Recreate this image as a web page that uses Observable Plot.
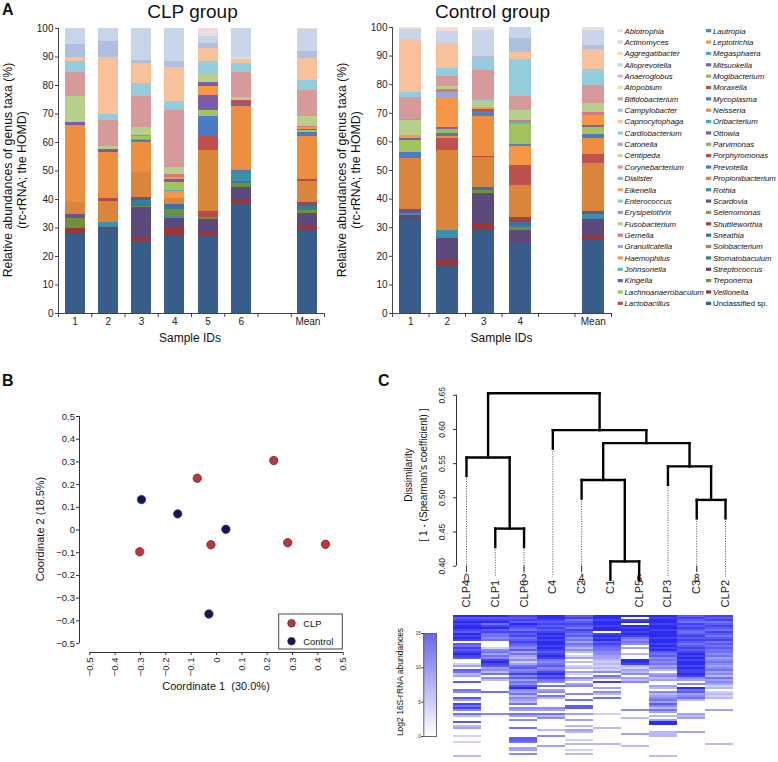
<!DOCTYPE html>
<html><head><meta charset="utf-8">
<script src="https://cdn.jsdelivr.net/npm/d3@7"></script>
<script src="https://cdn.jsdelivr.net/npm/@observablehq/plot@0.6"></script>
<style>
body{margin:0;background:#fff;}
#root{position:relative;width:778px;height:762px;overflow:hidden;background:#fff;}
#root > svg{position:absolute;}
</style></head><body><div id="root"></div>
<script>
const FONT = "'Liberation Sans', Arial, Helvetica, sans-serif";

// ---------- Panel A data ----------
const taxa = ["Abiotrophia","Actinomyces","Aggregatibacter","Alloprevotella","Anaeroglobus","Atopobium","Bifidobacterium","Campylobacter","Capnocytophaga","Cardiobacterium","Catonella","Centipeda","Corynebacterium","Dialister","Eikenella","Enterococcus","Erysipelothrix","Fusobacterium","Gemella","Granulicatella","Haemophilus","Johnsonella","Kingella","Lachnoanaerobaculum","Lactobacillus",
"Lautropia","Leptotrichia","Megasphaera","Mitsuokella","Mogibacterium","Moraxella","Mycoplasma","Neisseria","Oribacterium","Ottowia","Parvimonas","Porphyromonas","Prevotella","Propionibacterium","Rothia","Scardovia","Selenomonas","Shuttleworthia","Sneathia","Solobacterium","Stomatobaculum","Streptococcus","Treponema","Veillonella","Unclassified sp."];
const taxaColors = ["#F2DCDB","#C8D5E9","#FCD5B5","#B7DEE8","#CCC1DA","#D7E4BD","#D4A59A","#AEBFE2","#F9C09C","#93CDDD","#B3A2C7","#C3D69B","#D69A9B","#95B3D7","#F2A469","#8CCBC7","#A597C9","#B6D08C","#D9787A","#95A9DA","#F39A4E","#5CBBC4","#7A5CA8","#A3C35F","#C84A44",
"#4F81BD","#F79646","#4BACC6","#8064A2","#9BBB59","#C0504D","#4A7EBB","#EE8F40","#46A8C1","#7A5F9E","#93B454","#B84B47","#4A7BC4","#D9853C","#3E8FA8","#6A5489","#82A04B","#A8423F","#3F6EA8","#B87A4B","#357F93","#5C4A7C","#71903E","#983736","#385D8A"];

const clpIDs = ["1","2","3","4","5","6","Mean"];
const ctlIDs = ["1","2","3","4","Mean"];

const clp1 = [["Unclassified sp.",27.7],["Veillonella",2.3],["Treponema",3.3],["Scardovia",1.4],["Propionibacterium",4.1],["Neisseria",27.2],["Kingella",1.1],["Fusobacterium",9.1],["Corynebacterium",8.4],["Cardiobacterium",3.7],["Capnocytophaga",1.7],["Campylobacter",4.4],["Actinomyces",5.6]];
const clp2 = [["Unclassified sp.",29.4],["Streptococcus",0.7],["Rothia",2.0],["Propionibacterium",7.2],["Porphyromonas",1.1],["Neisseria",16.2],["Kingella",0.9],["Fusobacterium",1.2],["Corynebacterium",9.1],["Cardiobacterium",2.2],["Capnocytophaga",19.9],["Campylobacter",5.6],["Actinomyces",4.5]];
const clp3 = [["Unclassified sp.",25.1],["Veillonella",1.7],["Streptococcus",10.3],["Treponema",0.5],["Stomatobaculum",2.2],["Scardovia",0.8],["Propionibacterium",9.0],["Neisseria",10.3],["Mycoplasma",0.7],["Megasphaera",0.6],["Lachnoanaerobaculum",0.8],["Gemella",0.6],["Fusobacterium",2.7],["Corynebacterium",10.8],["Cardiobacterium",4.6],["Capnocytophaga",7.0],["Campylobacter",0.9],["Actinomyces",11.4]];
const clp4 = [["Unclassified sp.",27.5],["Veillonella",2.3],["Streptococcus",3.5],["Rothia",0.8],["Treponema",2.4],["Stomatobaculum",0.8],["Sneathia",0.9],["Propionibacterium",2.2],["Leptotrichia",2.3],["Megasphaera",0.5],["Lachnoanaerobaculum",2.7],["Kingella",1.0],["Haemophilus",0.9],["Gemella",1.0],["Fusobacterium",2.3],["Corynebacterium",20.1],["Cardiobacterium",3.1],["Capnocytophaga",11.9],["Campylobacter",2.1],["Actinomyces",11.7]];
const clp5 = [["Unclassified sp.",26.9],["Veillonella",1.4],["Streptococcus",4.7],["Treponema",0.8],["Porphyromonas",1.9],["Propionibacterium",21.5],["Moraxella",4.8],["Prevotella",7.2],["Lachnoanaerobaculum",2.0],["Kingella",5.4],["Leptotrichia",3.2],["Ottowia",1.1],["Fusobacterium",3.0],["Cardiobacterium",4.6],["Capnocytophaga",4.5],["Campylobacter",1.6],["Actinomyces",2.7],["Abiotrophia",2.7]];
const clp6 = [["Unclassified sp.",38.7],["Veillonella",0.9],["Streptococcus",4.7],["Treponema",1.4],["Stomatobaculum",0.5],["Rothia",3.4],["Prevotella",0.7],["Neisseria",22.5],["Kingella",0.8],["Moraxella",1.2],["Fusobacterium",0.9],["Corynebacterium",9.0],["Cardiobacterium",2.9],["Capnocytophaga",1.5],["Atopobium",0.8],["Actinomyces",10.1]];
const clpMean = [["Unclassified sp.",29.2],["Veillonella",1.8],["Streptococcus",4.1],["Treponema",1.1],["Stomatobaculum",1.3],["Scardovia",0.7],["Shuttleworthia",0.6],["Propionibacterium",7.4],["Porphyromonas",0.8],["Neisseria",15.0],["Prevotella",1.4],["Lachnoanaerobaculum",0.7],["Kingella",0.6],["Haemophilus",0.5],["Gemella",0.5],["Fusobacterium",3.3],["Corynebacterium",9.4],["Cardiobacterium",3.5],["Capnocytophaga",7.6],["Campylobacter",2.6],["Actinomyces",7.4],["Abiotrophia",0.5]];

const ctl1 = [["Unclassified sp.",32.9],["Streptococcus",1.4],["Rothia",0.7],["Scardovia",1.4],["Propionibacterium",17.9],["Prevotella",2.0],["Lachnoanaerobaculum",4.1],["Kingella",0.9],["Haemophilus",0.8],["Fusobacterium",5.3],["Johnsonella",0.6],["Corynebacterium",7.4],["Cardiobacterium",2.0],["Capnocytophaga",18.4],["Actinomyces",3.5],["Abiotrophia",0.7]];
const ctl2 = [["Unclassified sp.",16.5],["Veillonella",2.3],["Streptococcus",7.4],["Rothia",2.9],["Propionibacterium",27.8],["Moraxella",4.4],["Neisseria",0.7],["Mycoplasma",0.9],["Mogibacterium",1.4],["Mitsuokella",0.9],["Leptotrichia",10.3],["Granulicatella",1.8],["Gemella",1.1],["Fusobacterium",0.9],["Corynebacterium",3.6],["Cardiobacterium",2.8],["Capnocytophaga",8.8],["Actinomyces",4.2],["Abiotrophia",1.3]];
const ctl3 = [["Unclassified sp.",29.1],["Veillonella",2.1],["Streptococcus",10.8],["Treponema",0.9],["Sneathia",1.2],["Propionibacterium",10.4],["Porphyromonas",0.4],["Neisseria",14.0],["Lautropia",1.6],["Lactobacillus",0.7],["Haemophilus",0.9],["Fusobacterium",2.1],["Enterococcus",0.5],["Corynebacterium",10.3],["Cardiobacterium",3.3],["Campylobacter",1.4],["Actinomyces",9.1],["Abiotrophia",1.2]];
const ctl4 = [["Unclassified sp.",24.4],["Streptococcus",4.7],["Treponema",0.9],["Stomatobaculum",0.9],["Sneathia",0.8],["Shuttleworthia",1.7],["Propionibacterium",11.4],["Moraxella",7.0],["Leptotrichia",6.7],["Lautropia",0.7],["Lachnoanaerobaculum",6.8],["Johnsonella",0.7],["Gemella",0.9],["Fusobacterium",3.5],["Corynebacterium",4.7],["Cardiobacterium",12.9],["Capnocytophaga",2.7],["Campylobacter",4.7],["Actinomyces",3.9]];
const ctlMean = [["Unclassified sp.",25.4],["Veillonella",1.8],["Streptococcus",5.6],["Rothia",1.8],["Scardovia",1.2],["Propionibacterium",16.6],["Moraxella",3.3],["Neisseria",5.6],["Mycoplasma",1.2],["Lachnoanaerobaculum",2.6],["Mitsuokella",0.6],["Leptotrichia",3.5],["Gemella",1.2],["Fusobacterium",3.2],["Corynebacterium",6.2],["Cardiobacterium",5.5],["Capnocytophaga",7.0],["Campylobacter",1.5],["Actinomyces",5.0],["Abiotrophia",1.2]];

const yTicksA = [0,10,20,30,40,50,60,70,80,90,100];

// ---------- Panel B data ----------
const pcoaGroup = ["CLP","CLP","CLP","CLP","CLP","CLP","Control","Control","Control","Control"];
const pcoaX = [0.226,-0.076,-0.022,0.281,0.430,-0.303,-0.296,-0.153,0.037,-0.030];
const pcoaY = [0.306,0.228,-0.065,-0.056,-0.063,-0.096,0.134,0.071,0.003,-0.370];
const pTicks = [-0.5,-0.4,-0.3,-0.2,-0.1,0,0.1,0.2,0.3,0.4,0.5];

// ---------- Panel C data ----------
const leafOrder = ["CLP4","CLP1","CLP6","C4","C2","C1","CLP5","CLP3","C3","CLP2"];
const mergeLeft  = ["CLP1","C1","C3","C2","CLP3","CLP4",4,"C4",6];
const mergeRight = ["CLP6","CLP5","CLP2",2,3,1,5,7,8];
const mergeHeight = [0.455,0.407,0.497,0.526,0.546,0.559,0.580,0.599,0.653];
const hang = 0.027;
const dTicks = [0.40,0.45,0.50,0.55,0.60,0.65];
// heatmap levels (0 = none .. 9 = max), one string per sample column (leaf order), top row first
const heatCols = [
 "9789899879898"+"076"+"878987"+"00240763400700"+"0650074086850"+"630070340002"+"0020000003",
 "9789689786"+"656"+"0002"+"56465"+"8987"+"453"+"6053"+"00000"+"6"+"0000000000"+"5"+"000000000000000000000",
 "878798768786787"+"65746"+"43524"+"67568574657"+"9"+"546354"+"3605406"+"405"+"000"+"6"+"0000"+"776"+"00"+"44"+"0"+"5"+"0",
 "998"+"78787898"+"98998987898"+"656756"+"89786"+"50604"+"50630"+"000"+"54063"+"50"+"0000"+"3"+"00"+"5"+"0000"+"4"+"00000",
 "78678768767"+"5646535"+"30240302"+"30420"+"53045"+"000"+"5"+"00"+"6"+"00"+"77"+"00"+"4"+"00"+"4"+"00"+"3"+"0"+"43"+"000"+"2"+"0"+"3"+"00"+"2"+"0"+"3"+"0",
 "99899899"+"0"+"898978"+"7665544"+"323232"+"506408"+"00"+"405306"+"0000000"+"2"+"000000"+"3"+"0000000"+"3"+"000000",
 "9089098"+"9898"+"6565"+"0400300"+"998"+"3243"+"504350"+"000000000000"+"5"+"000"+"3"+"0000000"+"4"+"00000"+"3"+"00000",
 "989989989998998989"+"7675656"+"45304534"+"00"+"430534"+"5647536"+"40304"+"990"+"00"+"333"+"000000000"+"3",
 "787687876787876787"+"8989899898898"+"5405"+"09"+"674563"+"000000"+"434"+"000000"+"4"+"000000000000",
 "878678768767867676"+"65645654"+"564536454"+"2302"+"3230"+"0000"+"4"+"0000000000000000"+"3"+"000000"
];
const legendSteps = d3.range(0, 15, 0.25);

// ---------- helpers ----------
const root = document.getElementById("root");
function place(svg, left, top) { svg.style.left = left + "px"; svg.style.top = top + "px"; root.appendChild(svg); }
function stackBars(bars, slots) {
  const rows = [];
  bars.forEach((segs, i) => {
    let acc = 0;
    for (const [taxon, v] of segs) { rows.push({slot: slots[i], taxon, y1: acc, y2: acc + v}); acc += v; }
  });
  return rows;
}
const baseStyle = {fontFamily: FONT, background: "transparent", overflow: "visible", color: "#222"};

function barPanel(rows, ids, slots, nSlots, w, mL, mR, mT) {
  const centers = slots.map(s => s + 0.5);
  return Plot.plot({
    width: w, height: 345, marginLeft: mL, marginRight: mR, marginTop: mT, marginBottom: 32,
    x: {domain: [0, nSlots]}, y: {domain: [0, 100]},
    color: {domain: taxa, range: taxaColors},
    style: baseStyle,
    marks: [
      Plot.rect(rows, {x1: d => d.slot + 0.2, x2: d => d.slot + 0.8, y1: "y1", y2: "y2", fill: "taxon", shapeRendering: "crispEdges"}),
      Plot.ruleX([0], {y1: 0, y2: 100, stroke: "#444"}),
      Plot.ruleY([0], {x1: 0, x2: nSlots, stroke: "#444"}),
      Plot.axisY({ticks: yTicksA, tickSize: 3, tickPadding: 2, fontSize: 10, label: null, stroke: "#444"}),
      Plot.axisX({ticks: d3.range(0, nSlots + 1), tickSize: 4, tickFormat: () => "", label: null, stroke: "#444"}),
      Plot.axisX({ticks: centers, tickSize: 0, tickPadding: 4, fontSize: 10, label: null,
        tickFormat: d => ids[centers.indexOf(d)]})
    ]
  });
}

// Panel A
place(barPanel(stackBars([clp1,clp2,clp3,clp4,clp5,clp6,clpMean],[0,1,2,3,4,5,7]), clpIDs, [0,1,2,3,4,5,7], 8, 330, 58, 6, 28), 0, 0);
place(barPanel(stackBars([ctl1,ctl2,ctl3,ctl4,ctlMean],[0,1,2,3,5]), ctlIDs, [0,1,2,3,5], 6, 285, 62, 4, 27), 330, 0);

// Panel B
const fmtP = d => d === 0 ? "0" : (d < 0 ? "\u2212" : "") + Math.abs(d).toFixed(1);
const pcoa = pcoaX.map((x, i) => ({x, y: pcoaY[i], group: pcoaGroup[i]}));
place(Plot.plot({
  width: 360, height: 300, marginLeft: 79, marginRight: 17.3, marginTop: 16, marginBottom: 48,
  x: {domain: [-0.5, 0.5], insetLeft: 10.3},
  y: {domain: [-0.5, 0.5], insetBottom: 9},
  color: {domain: ["CLP","Control"], range: ["#C6323A","#15155E"]},
  style: baseStyle,
  marks: [
    Plot.ruleX([-0.5], {y1: -0.5, y2: 0.5, dx: -10.3, stroke: "#333"}),
    Plot.ruleY([-0.5], {x1: -0.5, x2: 0.5, dy: 9, stroke: "#333"}),
    Plot.axisY({ticks: pTicks, tickSize: 3, tickPadding: 1.5, fontSize: 9.5, tickFormat: fmtP, label: null, stroke: "#333"}),
    Plot.axisX({ticks: pTicks, tickSize: 3, tickFormat: () => "", label: null, stroke: "#333"}),
    Plot.text(pTicks, {x: d => d, frameAnchor: "bottom", dy: 5, rotate: -90, textAnchor: "end", lineAnchor: "middle", text: fmtP, fontSize: 9.5}),
    Plot.dot(pcoa, {x: "x", y: "y", fill: "group", r: 4.2, stroke: "#333", strokeWidth: 0.7})
  ]
}), 0, 400);

// Panel C dendrogram
const nodeX = [], segs = [], leafEnds = [];
function childInfo(c, h) {
  if (typeof c === "number") return {x: nodeX[c - 1], y: mergeHeight[c - 1]};
  const x = leafOrder.indexOf(c), y = h - hang;
  leafEnds.push({name: c, x, y});
  return {x, y};
}
mergeHeight.forEach((h, k) => {
  const a = childInfo(mergeLeft[k], h), b = childInfo(mergeRight[k], h);
  nodeX[k] = (a.x + b.x) / 2;
  segs.push({x1: a.x, y1: a.y, x2: a.x, y2: h}, {x1: b.x, y1: b.y, x2: b.x, y2: h}, {x1: a.x, y1: h, x2: b.x, y2: h});
});
place(Plot.plot({
  width: 398, height: 230, marginLeft: 76, marginRight: 53, marginTop: 9.8, marginBottom: 49.3,
  x: {domain: [0, 9], insetLeft: 10},
  y: {domain: [0.40, 0.65]},
  style: baseStyle,
  marks: [
    Plot.ruleX([0], {y1: 0.40, y2: 0.65, dx: -10, stroke: "#333"}),
    Plot.axisY({ticks: dTicks, tickSize: 3, tickFormat: () => "", label: null, stroke: "#333"}),
    Plot.text(dTicks, {y: d => d, frameAnchor: "left", dx: -14, rotate: -90, textAnchor: "middle", lineAnchor: "middle", text: d => d.toFixed(2), fontSize: 8.5}),
    Plot.link(leafEnds, {x1: "x", x2: "x", y1: "y", y2: 0.385, stroke: "#555", strokeWidth: 0.9, strokeDasharray: "1.2,1.3"}),
    Plot.link(segs, {x1: "x1", y1: "y1", x2: "x2", y2: "y2", stroke: "#000", strokeWidth: 2.4, strokeLinecap: "square"}),
    Plot.text(leafOrder, {x: (d, i) => i, y: 0.380, text: d => d, rotate: -90, textAnchor: "end", lineAnchor: "middle", fontSize: 11})
  ]
}), 380, 385);

// Heatmap
const nRows = 71;
const cells = [];
heatCols.forEach((s, c) => {
  const str = (s + "0".repeat(nRows)).slice(0, nRows);
  for (let r = 0; r < nRows; r++) cells.push({sample: leafOrder[c], row: r, level: +str[r]});
});
place(Plot.plot({
  width: 287, height: 142, margin: 0,
  x: {type: "band", domain: leafOrder, padding: 0, axis: null},
  y: {type: "band", domain: d3.range(nRows), padding: 0, axis: null},
  color: {type: "linear", domain: [0, 9], range: ["#ffffff", "#2C2CF0"]},
  style: baseStyle,
  marks: [Plot.cell(cells, {x: "sample", y: "row", fill: "level", inset: 0, shapeRendering: "crispEdges"})]
}), 449, 615);

// Colour bar
place(Plot.plot({
  width: 30, height: 115, marginLeft: 8.3, marginRight: 9, marginTop: 5, marginBottom: 7,
  x: {domain: [0, 1], axis: null}, y: {domain: [0, 15]},
  color: {type: "linear", domain: [0, 15], range: ["#ffffff", "#6666EC"]},
  style: baseStyle,
  marks: [
    Plot.rect(legendSteps, {x1: 0, x2: 1, y1: d => d, y2: d => d + 0.25, fill: d => d, shapeRendering: "crispEdges"}),
    Plot.frame({stroke: "#666"}),
    Plot.axisY({ticks: [0,5,10,15], tickSize: 2, tickPadding: 1, fontSize: 4.5, label: null})
  ]
}), 415, 628);

// ---------- overlay text ----------
const ov = d3.select(root).append("svg").attr("width", 778).attr("height", 762)
  .style("left", "0px").style("top", "0px").style("pointer-events", "none")
  .attr("font-family", FONT).attr("fill", "#111");
function txt(x, y, s, o = {}) {
  const t = ov.append("text").attr("x", x).attr("y", y).text(s)
    .attr("font-size", o.size || 11).attr("text-anchor", o.anchor || "start")
    .style("white-space", "pre");
  if (o.weight) t.attr("font-weight", o.weight);
  if (o.italic) t.attr("font-style", "italic");
  if (o.rotate) t.attr("transform", `rotate(${o.rotate},${x},${y})`).attr("dy", "0.35em");
  return t;
}
txt(2, 15, "A", {size: 16, weight: "bold"});
txt(192.5, 18, "CLP group", {size: 19, anchor: "middle"});
txt(492.5, 18, "Control group", {size: 19, anchor: "middle"});
txt(7.5, 170, "Relative abundances of genus taxa (%)", {size: 12.3, anchor: "middle", rotate: -90});
txt(21.5, 170, "(rc-rRNA; the HOMD)", {size: 12.3, anchor: "middle", rotate: -90});
txt(341.5, 170, "Relative abundances of genus taxa (%)", {size: 12.3, anchor: "middle", rotate: -90});
txt(356, 170, "(rc-rRNA; the HOMD)", {size: 12.3, anchor: "middle", rotate: -90});
txt(190, 342, "Sample IDs", {size: 12, anchor: "middle"});
txt(501.5, 342, "Sample IDs", {size: 12, anchor: "middle"});

// legend (two columns)
const legY0 = 30.7, legDy = 11.36;
taxa.forEach((t, i) => {
  const col = i < 25 ? 0 : 1, row = i % 25;
  const sx = col === 0 ? 617.7 : 706, tx = col === 0 ? 624.5 : 713;
  const y = legY0 + row * legDy;
  ov.append("rect").attr("x", sx).attr("y", y - 1.6).attr("width", 5.2).attr("height", 3.2).attr("fill", taxaColors[i]);
  txt(tx, y + 2.8, t, {size: 7.8, italic: t !== "Unclassified sp."});
});

txt(2, 386, "B", {size: 16, weight: "bold"});
txt(378, 386, "C", {size: 16, weight: "bold"});
txt(216, 690, "Coordinate 1  (30.0%)", {size: 11, anchor: "middle"});
txt(40, 529, "Coordinate 2 (18.5%)", {size: 11, anchor: "middle", rotate: -90});
// PCoA legend box
ov.append("rect").attr("x", 278.7).attr("y", 614).attr("width", 63.6).attr("height", 35).attr("fill", "#fff").attr("stroke", "#444").attr("stroke-width", 1);
ov.append("circle").attr("cx", 291.5).attr("cy", 623.3).attr("r", 3.8).attr("fill", "#C6323A").attr("stroke", "#333").attr("stroke-width", 0.7);
ov.append("circle").attr("cx", 291.5).attr("cy", 641.2).attr("r", 3.8).attr("fill", "#15155E").attr("stroke", "#333").attr("stroke-width", 0.7);
txt(303.3, 626.6, "CLP", {size: 9.3});
txt(303.3, 644.5, "Control", {size: 9.3});

txt(408, 475, "Dissimilarity", {size: 10, anchor: "middle", rotate: -90});
txt(423, 475, "[ 1 - (Spearman's coefficient) ]", {size: 10, anchor: "middle", rotate: -90});
txt(400, 682, "Log2 16S-rRNA abundances", {size: 8.5, anchor: "middle", rotate: -90});
</script></body></html>
